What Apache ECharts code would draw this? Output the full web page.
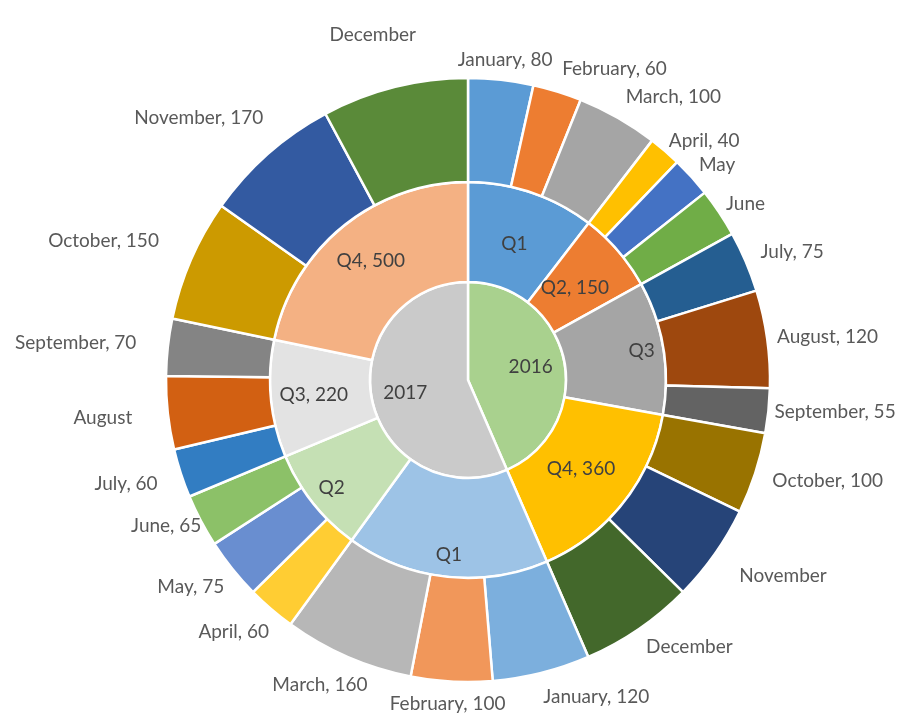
<!DOCTYPE html>
<html>
<head>
<meta charset="utf-8">
<script src="https://cdn.jsdelivr.net/npm/echarts@6/dist/echarts.min.js"></script>
<style>
html,body{margin:0;padding:0;background:#ffffff;}
#chart{width:901px;height:719px;}
</style>
</head>
<body>
<div id="chart"></div>
<script>
// ---------------- data ----------------
const years = ['2016', '2017'];
const quarters = ['Q1', 'Q2', 'Q3', 'Q4'];
const months = ['January', 'February', 'March', 'April', 'May', 'June',
  'July', 'August', 'September', 'October', 'November', 'December'];
const values2016 = [80, 60, 100, 40, 50, 60, 75, 120, 55, 100, 120, 140];
const values2017 = [120, 100, 160, 60, 75, 65, 60, 90, 70, 150, 170, 180];
// which labels show their value (as in the source picture)
const monthShowsValue2016 = [true, true, true, true, false, false, true, true, true, true, false, false];
const monthShowsValue2017 = [true, true, true, true, true, true, true, false, true, true, true, false];
const quarterShowsValue2016 = [false, true, false, true];
const quarterShowsValue2017 = [false, false, true, true];

// ---------------- styles ----------------
const yearColors = ['#A9D18E', '#CACACA'];
const quarterColors2016 = ['#5B9BD5', '#ED7D31', '#A5A5A5', '#FFC000'];
const quarterColors2017 = ['#9DC3E6', '#C5E0B4', '#E3E3E3', '#F4B183'];
const monthColors2016 = ['#5B9BD5', '#ED7D31', '#A5A5A5', '#FFC000', '#4472C4', '#70AD47',
  '#255E91', '#9E480E', '#636363', '#997300', '#264478', '#43682B'];
const monthColors2017 = ['#7CAFDD', '#F1975A', '#B7B7B7', '#FFCD33', '#698ED0', '#8CC168',
  '#327DC2', '#D26012', '#848484', '#CC9A00', '#335AA1', '#5A8A39'];
// gap (px) between the outer ring and each outer label
const labelGap2016 = [12, 16, 16, 6, 10, 8, 16, 10, 6, 18, 30, 13];
const labelGap2017 = [17, 14, 22, 22, 20, 4, 26, 36, 32, 40, 40, 46];
// radius (px) at which each quarter label sits
const quarterLabelRadius2016 = [144, 141, 176, 144];
const quarterLabelRadius2017 = [176, 174, 155, 154];

const CX = 468, CY = 380, R_OUT = 302;

const yearValues = [values2016, values2017];
const monthShows = [monthShowsValue2016, monthShowsValue2017];
const quarterShows = [quarterShowsValue2016, quarterShowsValue2017];
const quarterColors = [quarterColors2016, quarterColors2017];
const monthColors = [monthColors2016, monthColors2017];
const labelGaps = [labelGap2016, labelGap2017];
const quarterLabelRadius = quarterLabelRadius2016.concat(quarterLabelRadius2017);

// angular extents of quarters (degrees clockwise from top), from the data
const quarterEnds = [];
(function () {
  let total = 0;
  yearValues.forEach(function (v) { v.forEach(function (x) { total += x; }); });
  let acc = 0;
  yearValues.forEach(function (v) {
    for (let q = 0; q < 4; q++) {
      acc += v[q * 3] + v[q * 3 + 1] + v[q * 3 + 2];
      quarterEnds.push(acc / total * 360);
    }
  });
})();

const data = years.map(function (y, yi) {
  return {
    name: y,
    itemStyle: { color: yearColors[yi] },
    label: { formatter: '{b}' },
    children: quarters.map(function (q, qi) {
      return {
        name: q,
        itemStyle: { color: quarterColors[yi][qi] },
        label: { formatter: quarterShows[yi][qi] ? '{b}, {c}' : '{b}' },
        children: [0, 1, 2].map(function (k) {
          const mi = qi * 3 + k;
          return {
            name: months[mi],
            value: yearValues[yi][mi],
            itemStyle: { color: monthColors[yi][mi] },
            label: {
              formatter: monthShows[yi][mi] ? '{b}, {c}' : '{b}',
              distance: labelGaps[yi][mi]
            }
          };
        })
      };
    })
  };
});

const chart = echarts.init(document.getElementById('chart'), null, { renderer: 'canvas' });
chart.setOption({
  backgroundColor: '#ffffff',
  animation: false,
  series: [{
    type: 'sunburst',
    center: [CX, CY],
    radius: [0, R_OUT],
    sort: null,
    nodeClick: false,
    startAngle: 90,
    clockwise: true,
    data: data,
    emphasis: { disabled: true },
    itemStyle: { borderColor: '#ffffff', borderWidth: 2.5 },
    label: {
      rotate: 0,
      color: '#404040',
      fontFamily: 'Lato',
      fontSize: 19
    },
    levels: [
      {},
      { radius: [0, 98], label: { position: 'inside', rotate: 0 } },
      { radius: [98, 198], label: { position: 'inside', rotate: 0 } },
      { radius: [198, R_OUT], label: { position: 'outside', rotate: 0, color: '#595959' } }
    ],
    labelLayout: function (p) {
      const r = p.labelRect;
      const w = r.width, h = r.height;
      const mx = r.x + w / 2, my = r.y + h / 2;
      const dxc = mx - CX, dyc = my - CY;
      const dist = Math.sqrt(dxc * dxc + dyc * dyc);
      if (dist > R_OUT - 10) {
        // anchor point of the default "outside" label
        const ax = (r.x >= CX) ? r.x : r.x + w;
        const ay = my;
        const ux0 = ax - CX, uy0 = ay - CY;
        const L = Math.sqrt(ux0 * ux0 + uy0 * uy0) || 1;
        const ux = ux0 / L, uy = uy0 / L;
        let offX;
        if (ux >= 0) {
          const f = Math.max(0, Math.min(1, (ux - 0.1) / 0.15));
          offX = f * w / 2;
        } else {
          offX = ux * w / 2;
        }
        return {
          x: ax + offX,
          y: ay + uy * h * 0.42,
          align: 'center',
          verticalAlign: 'middle'
        };
      }
      if (dist > 100 && dist < 200) {
        let ang = Math.atan2(dxc, -dyc) * 180 / Math.PI;
        if (ang < 0) ang += 360;
        let idx = 0;
        while (idx < quarterEnds.length - 1 && ang > quarterEnds[idx]) idx++;
        const rr = quarterLabelRadius[idx];
        return {
          x: CX + dxc / dist * rr,
          y: CY + dyc / dist * rr,
          align: 'center',
          verticalAlign: 'middle'
        };
      }
      if (dist < 70 && dist > 1) {
        return {
          x: CX + dxc / dist * 64,
          y: CY + dyc / dist * 64,
          align: 'center',
          verticalAlign: 'middle'
        };
      }
      return {};
    }
  }]
});
</script>
</body>
</html>
